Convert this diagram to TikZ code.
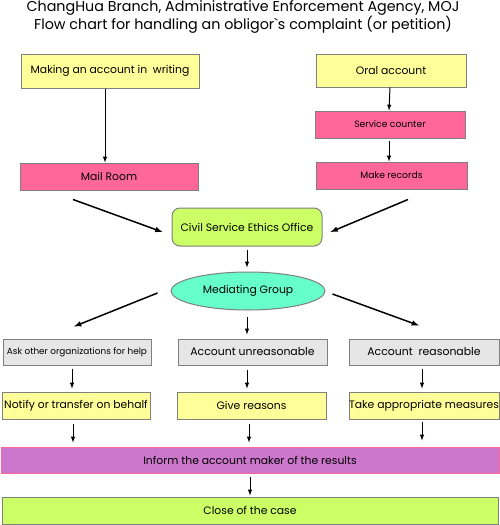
\documentclass[tikz,border=0pt]{standalone}
\usepackage{fontspec}
\setmainfont{Poppins}
\usetikzlibrary{arrows,shapes.geometric,positioning}

\definecolor{paleyellow}{HTML}{FFFF99}
\definecolor{hotpink}{HTML}{FF6699}
\definecolor{limegreen}{HTML}{CCFF66}
\definecolor{aquagreen}{HTML}{66FFCC}
\definecolor{lightgray}{HTML}{E6E6E6}
\definecolor{orchid}{HTML}{CC77CC}
\definecolor{edgegray}{HTML}{7F7F7F}

\tikzset{
  box/.style={draw=edgegray,line width=1pt,inner sep=0pt,font=\fontsize{10.8}{12}\selectfont},
  yellowbox/.style={box,fill=paleyellow},
  pinkbox/.style={box,fill=hotpink},
  graybox/.style={box,fill=lightgray},
  flowarrow/.style={-latex,line width=1pt},
  bigarrow/.style={-latex,line width=1.5pt}
}

\begin{document}
\begin{tikzpicture}[x=1pt,y=-1pt]
\useasboundingbox[fill=white] (0,0) rectangle (500,525);
% title
\node[align=center,font=\fontsize{14.3}{17}\selectfont] (title) at (243,17)
  {ChangHua Branch, Administrative Enforcement Agency, MOJ\\
   Flow chart for handling an obligor\textasciigrave s complaint (or petition)};
% top row
\node[yellowbox,minimum width=178pt,minimum height=34pt] (writing) at (110,71) {Making an account in\ \ writing};
\node[yellowbox,minimum width=150pt,minimum height=33pt] (oral) at (391,70.5) {Oral account};
\node[pinkbox,minimum width=150pt,minimum height=27pt,font=\fontsize{9.2}{10}\selectfont] (counter) at (390,124.5) {Service counter};
\node[pinkbox,minimum width=151pt,minimum height=27pt,font=\fontsize{9.2}{10}\selectfont] (records) at (391.5,175.5) {Make records};
\node[pinkbox,minimum width=178pt,minimum height=27pt] (mailroom) at (109,176.5) {Mail Room};
% middle
\node[box,fill=limegreen,rounded corners=8pt,minimum width=150pt,minimum height=38pt] (ethics) at (247,227) {Civil Service Ethics Office};
\node[box,fill=aquagreen,ellipse,minimum width=154pt,minimum height=38pt] (mediate) at (248,291) {Mediating Group};
% branches
\node[graybox,minimum width=148pt,minimum height=26pt,font=\fontsize{8.9}{9}\selectfont] (askother) at (77,352) {Ask other organizations for help};
\node[graybox,minimum width=149pt,minimum height=26pt,font=\fontsize{10.9}{12}\selectfont] (unreason) at (252.5,352) {Account unreasonable};
\node[graybox,minimum width=150pt,minimum height=26pt,font=\fontsize{10.9}{12}\selectfont] (reason) at (424,352) {Account\ \ reasonable};
\node[yellowbox,minimum width=148pt,minimum height=27pt] (notify) at (76,405.5) {Notify or transfer on behalf};
\node[yellowbox,minimum width=149pt,minimum height=27pt] (givereason) at (251.5,405.5) {Give reasons};
\node[yellowbox,minimum width=150pt,minimum height=27pt] (measures) at (424,405.5) {Take appropriate measures};
% bottom
\node[box,draw=hotpink,fill=orchid,minimum width=498pt,minimum height=26pt] (inform) at (250,460) {Inform the account maker of the results};
\node[box,fill=limegreen,minimum width=496pt,minimum height=27pt] (closecase) at (250,510.5) {Close of the case};

% arrows
\draw[flowarrow] ([xshift=-5pt]writing.south) -- ([xshift=-4pt]mailroom.north);
\draw[flowarrow] ([xshift=-1pt]oral.south) -- ([xshift=-1pt]counter.north);
\draw[flowarrow,shorten <=2pt] ([xshift=-1pt]counter.south) -- ([xshift=-2.5pt]records.north);
\draw[bigarrow] ([xshift=-36pt,yshift=-9pt]mailroom.south) -- ([xshift=-9pt,yshift=-5pt]ethics.west);
\draw[bigarrow] ([xshift=16.5pt,yshift=-10pt]records.south) -- ([xshift=8pt,yshift=-5pt]ethics.east);
\draw[flowarrow,shorten <=3pt,shorten >=4pt] (ethics.south) -- ([xshift=-1pt]mediate.north);
\draw[bigarrow] ([xshift=-13pt,yshift=-2pt]mediate.west) -- ([xshift=-3pt,yshift=12pt]askother.north);
\draw[flowarrow,shorten <=6pt,shorten >=4pt] ([xshift=-1pt]mediate.south) -- ([xshift=-5.5pt]unreason.north);
\draw[bigarrow] ([xshift=7pt,yshift=-3pt]mediate.east) -- ([xshift=-5pt,yshift=13pt]reason.north);
\draw[flowarrow,shorten <=3pt,shorten >=3pt] ([xshift=-5pt]askother.south) -- ([xshift=-4pt]notify.north);
\draw[flowarrow,shorten <=4pt,shorten >=3pt] ([xshift=-5.5pt]unreason.south) -- ([xshift=-4.5pt]givereason.north);
\draw[flowarrow,shorten <=3pt,shorten >=3pt] ([xshift=-2pt]reason.south) -- ([xshift=-2pt]measures.north);
\draw[flowarrow,shorten <=4pt,shorten >=4pt] ([xshift=-3pt]notify.south) -- ([xshift=-3pt]notify.south |- inform.north);
\draw[flowarrow,shorten <=4pt,shorten >=4pt] ([xshift=-2.5pt]givereason.south) -- ([xshift=-1pt]inform.north);
\draw[flowarrow,shorten <=2pt,shorten >=6pt] ([xshift=-2pt]measures.south) -- ([xshift=-2pt]measures.south |- inform.north);
\draw[flowarrow,shorten <=3pt,shorten >=1pt] (inform.south) -- (closecase.north);
\end{tikzpicture}
\end{document}
